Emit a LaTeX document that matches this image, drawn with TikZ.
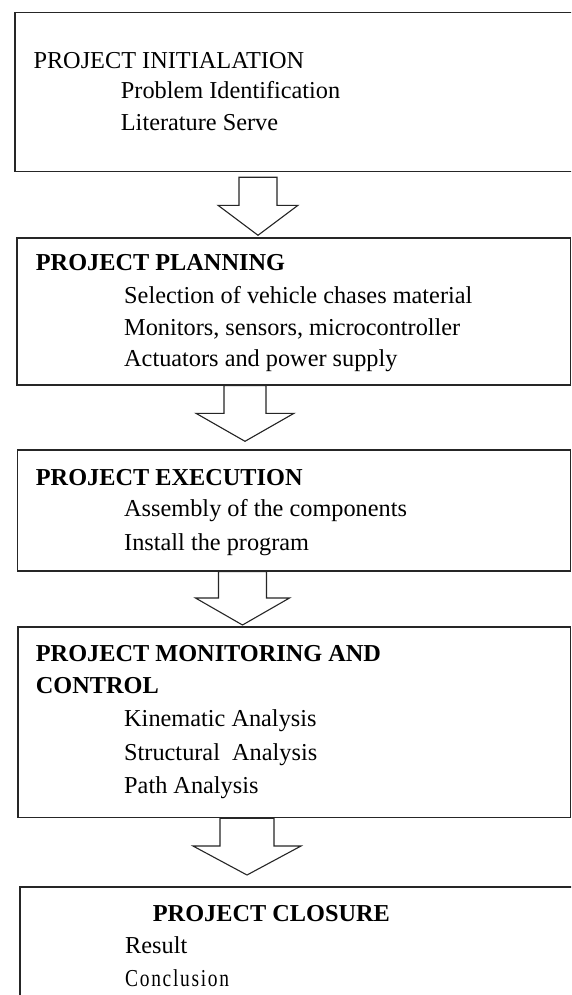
\documentclass[tikz,border=0pt]{standalone}
\usepackage{fontspec}
\setmainfont{Liberation Serif}
\newfontfamily\spacedfont[FakeStretch=0.8,LetterSpace=7]{Liberation Serif}
\usepackage{tikz}
\usetikzlibrary{calc}

\newcommand{\stagefont}{\fontsize{24.3}{30}\selectfont}
\tikzset{
	box/.style={draw=black!85,line width=1.6pt,rectangle,anchor=north west,inner sep=0pt},
	blockarrow/.style={draw=black!85,line width=1.1pt,fill=white,line join=miter},
	head/.style={anchor=base west,inner sep=0pt,font=\stagefont\bfseries},
	item/.style={anchor=base west,inner sep=0pt,font=\stagefont}
}

\begin{document}
\begin{tikzpicture}[x=1pt,y=-1pt]
	\useasboundingbox (0,0) rectangle (571,995);
	\fill[white] (0,0) rectangle (571,995);
	\clip (0,0) rectangle (571,995);
	% stage boxes
	\node[box,minimum width=580pt,minimum height=159pt] (b1) at (14,11.7) {};
	\node[box,minimum width=553.5pt,minimum height=146.7pt] (b2) at (16,237.3) {};
	\node[box,minimum width=553pt,minimum height=120.7pt] (b3) at (16.5,449.3) {};
	\node[box,minimum width=552.5pt,minimum height=190.7pt] (b4) at (17,626) {};
	\node[box,minimum width=580pt,minimum height=140pt] (b5) at (19,886) {};
	% hollow arrows between the stages
	\foreach \from/\to/\cx/\ga/\gb/\sw/\hw/\hl in {b1/b2/258/5/2/19/40/30,b2/b3/245/0/8/21/49/28,b3/b4/242.5/0/1/24/47/27,b4/b5/247/0/11/27/54/29}
	{
		\coordinate (s) at (\cx,0 |- \from.south);
		\coordinate (t) at (\cx,0 |- \to.north);
		\draw[blockarrow] ($(s)+(-\sw,\ga)$) -- ($(s)+(\sw,\ga)$) -- ($(t)+(\sw,-\gb-\hl)$) -- ($(t)+(\hw,-\gb-\hl)$) -- ($(t)+(0,-\gb)$) -- ($(t)+(-\hw,-\gb-\hl)$) -- ($(t)+(-\sw,-\gb-\hl)$) -- cycle;
	}
	% texts
	\node[item] (h1) at (33.3,68.3) {PROJECT INITIALATION};
	\node[item] (i11) at (120.7,99) {Problem Identification};
	\node[item] (i12) at (120.7,130.7) {Literature Serve};

	\node[head] (h2) at (35.7,270.7) {PROJECT PLANNING};
	\node[item] (i21) at (124,303.3) {Selection of vehicle chases material};
	\node[item] (i22) at (124,335.7) {Monitors, sensors, microcontroller};
	\node[item] (i23) at (124,366.7) {Actuators and power supply};

	\node[head] (h3) at (35.7,485) {PROJECT EXECUTION};
	\node[item] (i31) at (124,516.7) {Assembly of the components};
	\node[item] (i32) at (124,550) {Install the program};

	\node[head] (h4) at (35.7,661.7) {PROJECT MONITORING AND};
	\node[head] (h4b) at (35.7,693.3) {CONTROL};
	\node[item] (i41) at (124,726.7) {Kinematic Analysis};
	\node[item] (i42) at (124,760) {Structural\ \ Analysis};
	\node[item] (i43) at (124,793.3) {Path Analysis};

	\node[head] (h5) at (152.7,921.7) {PROJECT CLOSURE};
	\node[item] (i51) at (125,953.3) {Result};
	\node[item] (i52) at (125,986) {\spacedfont Conclusion};
\end{tikzpicture}
\end{document}
